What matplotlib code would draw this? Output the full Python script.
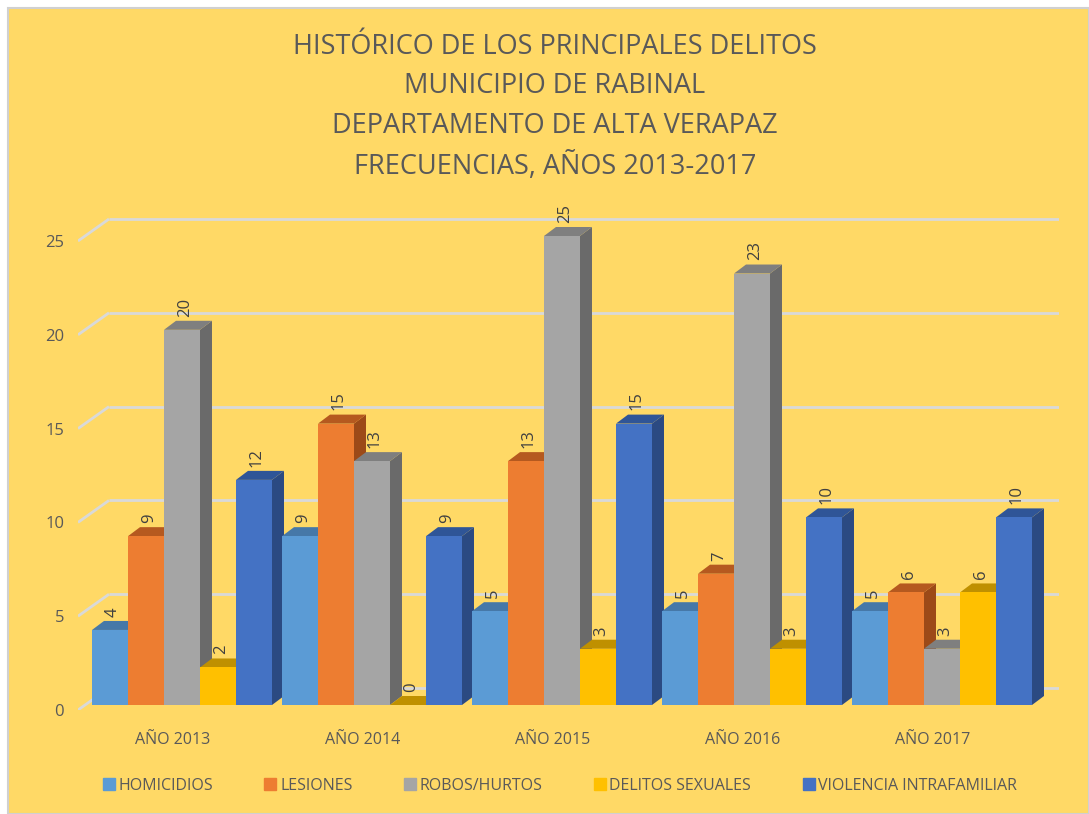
import numpy as np
from matplotlib import pyplot as plt
from matplotlib.patches import Rectangle, Polygon
from matplotlib.lines import Line2D

# datos del grafico
anios = ["AÑO 2013", "AÑO 2014", "AÑO 2015", "AÑO 2016", "AÑO 2017"]
series = ["HOMICIDIOS", "LESIONES", "ROBOS/HURTOS", "DELITOS SEXUALES", "VIOLENCIA INTRAFAMILIAR"]
homicidios = [4, 9, 5, 5, 5]
lesiones = [9, 15, 13, 7, 6]
robos = [20, 13, 25, 23, 3]
delitos_sexuales = [2, 0, 3, 3, 6]
violencia = [12, 9, 15, 10, 10]
valores = [homicidios, lesiones, robos, delitos_sexuales, violencia]
yticks = [0, 5, 10, 15, 20, 25]

# colores: frente, tapa, lado
frente = ["#5B9BD5", "#ED7D31", "#A5A5A5", "#FFC000", "#4472C4"]
tapa = ["#4678A8", "#B5591F", "#7F7F7F", "#BF9000", "#2F5597"]
lado = ["#3E6A94", "#9C4A18", "#6A6A6A", "#B08400", "#2B4A82"]
fondo = "#FFD966"
gris = "#595959"

W, H = 1089, 814
fig = plt.figure(figsize=(W / 100, H / 100), dpi=100, facecolor="white")
plt.rcParams['font.family'] = ['Open Sans', 'DejaVu Sans']

# marco dorado con borde gris
fig.patches.append(Rectangle((8 / W, 0), 1 - 8 / W, 1 - 8 / H, transform=fig.transFigure,
                             facecolor=fondo, edgecolor="#D0D0D0", lw=1.5, zorder=-10))

# escala: 190 px por categoria, 18.76 px por unidad
px_x, px_y = 190.0, 18.76
dxb, dyb = 31 / px_x, 22 / px_y      # profundidad de la pared del fondo
dx, dy = 12 / px_x, 9 / px_y         # profundidad de las barras
x0, y0 = 78, 710
xmax = 4.5 + dxb
ymax = 26.4
ax = fig.add_axes([x0 / W, (H - y0) / H, (xmax + 0.5) * px_x / W, ymax * px_y / H])
ax.set_xlim(-0.5, xmax)
ax.set_ylim(0, ymax)
ax.set_facecolor("none")
for s in ax.spines.values():
    s.set_visible(False)

# lineas de la cuadricula (pared del fondo y lateral)
for v in yticks:
    ax.plot([-0.5, -0.5 + dxb], [v, v + dyb], color="#D9D9D9", lw=2, zorder=1,
            solid_capstyle="butt")
    ax.plot([-0.5 + dxb, 4.5 + dxb], [v + dyb, v + dyb], color="#D9D9D9", lw=2, zorder=1,
            solid_capstyle="butt")

ancho = 36 / px_x
base = 5 / px_y
inicio = -0.5 + 14 / px_x
z = 10
for i in range(len(anios)):
    for j in range(len(series)):
        L = i + inicio + j * ancho
        t = base + valores[j][i]
        ax.add_patch(Polygon([(L + ancho, base), (L + ancho + dx, base + dy),
                              (L + ancho + dx, t + dy), (L + ancho, t)],
                             closed=True, facecolor=lado[j], edgecolor="none", zorder=z))
        ax.add_patch(Polygon([(L, t), (L + ancho, t), (L + ancho + dx, t + dy), (L + dx, t + dy)],
                             closed=True, facecolor=tapa[j], edgecolor="none", zorder=z + 1))
        if valores[j][i] > 0:
            ax.add_patch(Rectangle((L, base), ancho, valores[j][i], facecolor=frente[j],
                                   edgecolor="none", zorder=z + 2))
        ax.annotate(str(valores[j][i]), (L + ancho / 2 + dx / 4, t + dy),
                    xytext=(0, 3), textcoords="offset points", rotation=90,
                    ha="center", va="bottom", fontsize=12, color="#404040", zorder=100)
        z += 3

ax.set_yticks(yticks)
ax.set_yticklabels([str(v) for v in yticks], fontsize=12, color=gris)
ax.set_xticks(range(len(anios)))
ax.set_xticklabels(anios, fontsize=11.5, color=gris)
ax.tick_params(length=0)
ax.tick_params(axis="y", pad=10)
ax.tick_params(axis="x", pad=16)

fig.text(555 / W, 1 - 107 / H,
         "HISTÓRICO DE LOS PRINCIPALES DELITOS\nMUNICIPIO DE RABINAL\n"
         "DEPARTAMENTO DE ALTA VERAPAZ\nFRECUENCIAS, AÑOS 2013-2017",
         ha="center", va="center", fontsize=19.5, color=gris, linespacing=1.55)

handles = [Line2D([], [], marker="s", linestyle="none", markersize=8,
                  markerfacecolor=c, markeredgecolor=c) for c in frente]
fig.legend(handles, series, loc="center", bbox_to_anchor=(559 / W, 1 - 786 / H), ncol=5,
           frameon=False, fontsize=11.5, labelcolor=gris, handletextpad=0.1,
           columnspacing=3.1, handlelength=1.0)

fig.savefig("out.png", dpi=100, facecolor=fig.get_facecolor())
